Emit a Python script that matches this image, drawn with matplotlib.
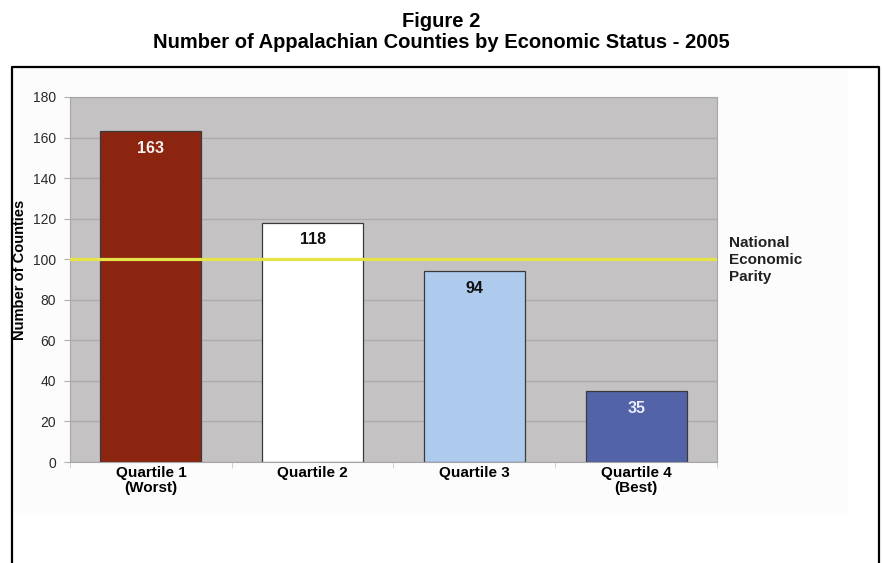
import matplotlib.pyplot as plt
from matplotlib.lines import Line2D
from matplotlib.patches import Rectangle

plt.rcParams['font.family'] = ['Liberation Sans', 'DejaVu Sans']

# Data
categories = ["Quartile 1\n(Worst)", "Quartile 2", "Quartile 3", "Quartile 4\n(Best)"]
counts = [163, 118, 94, 35]
bar_colors = ["#8b2510", "#ffffff", "#aecbee", "#5363a8"]
label_colors = ["#f4f0ee", "#111111", "#111111", "#e8ecf8"]
parity_level = 100
y_ticks = [0, 20, 40, 60, 80, 100, 120, 140, 160, 180]

W, H = 882, 563
fig = plt.figure(figsize=(W / 100, H / 100), dpi=100)

# Subtle off-white chart-area background and frame (bottom edge runs off the page)
fig.add_artist(Rectangle((14 / W, 1 - 513 / H), (848 - 14) / W, (513 - 69) / H,
                         transform=fig.transFigure, facecolor='#fcfcfc',
                         edgecolor='none', zorder=0))
x0, x1, ytop = 12 / W, 879 / W, 1 - 67 / H
fig.add_artist(Line2D([x0, x0, x1, x1], [-0.01, ytop, ytop, -0.01],
                      transform=fig.transFigure, color='black', lw=1.6))

ax = fig.add_axes([70 / W, 1 - 462 / H, 647 / W, 365 / H])

# Titles
fig.text(0.5, 1 - 27 / H, "Figure 2", ha='center', va='baseline',
         fontsize=14.5, fontweight='bold')
fig.text(0.5, 1 - 48 / H, "Number of Appalachian Counties by Economic Status - 2005",
         ha='center', va='baseline', fontsize=14.5, fontweight='bold')

# Plot area
ax.set_facecolor('#c4c2c2')
ax.set_xlim(-0.5, len(categories) - 0.5)
ax.set_ylim(0, 180)
ax.set_yticks(y_ticks)
ax.grid(True, axis='y', color='#adabab', lw=1)
ax.set_axisbelow(True)

xs = range(len(categories))
ax.bar(xs, counts, width=0.625, color=bar_colors, edgecolor='#3a3a3a', lw=0.9, zorder=2)
for x, v, c in zip(xs, counts, label_colors):
    ax.text(x, v - 8.5, str(v), ha='center', va='center', color=c,
            fontsize=11.5, fontweight='bold', zorder=4)

# National economic parity line
ax.axhline(parity_level, color='#e4e448', lw=2.3, zorder=3)
ax.text(1.0 + 12 / 647, parity_level - 0.5, "National\nEconomic\nParity",
        transform=ax.get_yaxis_transform(), ha='left', va='center',
        fontsize=11, fontweight='bold', color='#222222', linespacing=1.25)

# Axes styling
for s in ax.spines.values():
    s.set_color('#a6a6a6')
ax.set_xticks(list(xs))
ax.set_xticklabels(categories, fontsize=11, fontweight='bold', linespacing=1.1)
ax.set_xticks([i + 0.5 for i in range(-1, len(categories))], minor=True)
ax.tick_params(axis='x', which='major', length=0, pad=3)
ax.tick_params(axis='x', which='minor', length=4, color='#c8c8c8')
ax.tick_params(axis='y', length=4, color='#b0aeae', labelsize=10,
               labelcolor='#2a2a2a', pad=6)
ax.set_ylabel("Number of Counties", fontsize=10.5, fontweight='bold')
ax.yaxis.set_label_coords((27 - 70) / 647, (462 - 270) / 365)

fig.savefig("out.png", dpi=100)
